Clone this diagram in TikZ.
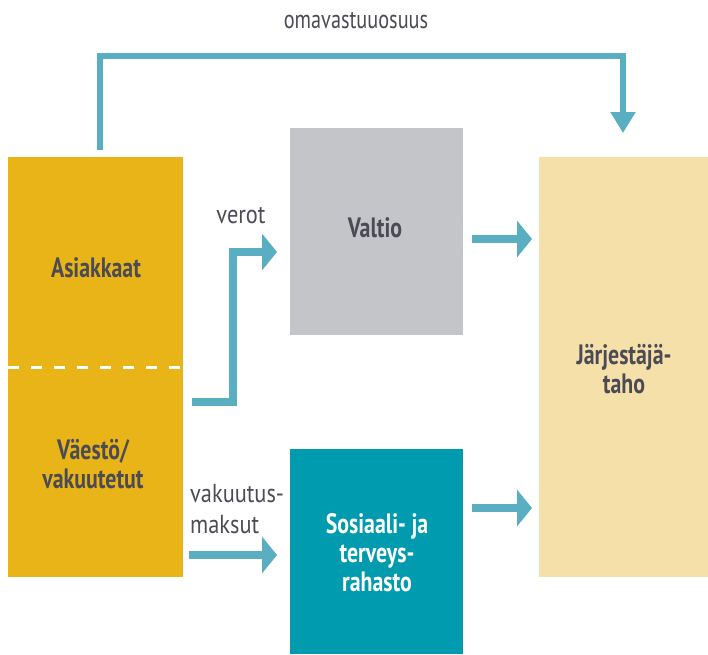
\documentclass[tikz,border=0pt]{standalone}
\usepackage{fontspec}
\setmainfont{PT Sans}
\usepackage{graphicx}
\usetikzlibrary{arrows.meta}
\definecolor{gold}{HTML}{E8B418}
\definecolor{greybox}{HTML}{C4C5C9}
\definecolor{tealbox}{HTML}{009BAE}
\definecolor{pale}{HTML}{F5E0AA}
\definecolor{arrowc}{HTML}{5AAEC1}
\definecolor{txt}{HTML}{4B4B55}
\newcommand{\sqz}[1]{\scalebox{0.78}[1]{#1}}
\newcommand{\sqzb}[1]{\scalebox{0.86}[1]{#1}}
\begin{document}
\begin{tikzpicture}[x=1pt,y=-1pt,
  box/.style={draw=none, inner sep=0pt, outer sep=0pt, anchor=north west},
  boxlabel/.style={text=txt, font=\bfseries\fontsize{28}{29}\selectfont, align=center, inner sep=0pt},
  flowlabel/.style={text=txt, font=\fontsize{26}{31}\selectfont, inner sep=0pt},
  flow/.style={draw=arrowc, line width=8pt, line join=miter, -{Triangle[width=36pt,length=15pt]}},
  topflow/.style={draw=arrowc, line width=6pt, line join=miter, -{Triangle[width=24pt,length=21pt]}},
]
\useasboundingbox (0,0) rectangle (708,654);
\fill[white] (0,0) rectangle (708,654);

% boxes
\node[box, fill=gold, minimum width=175pt, minimum height=210pt] (asi) at (8,157) {};
\node[box, fill=gold, minimum width=175pt, minimum height=210pt] (vae) at (8,367) {};
\node[box, fill=greybox, minimum width=173pt, minimum height=207pt] (valtio) at (290,128) {};
\node[box, fill=tealbox, minimum width=173pt, minimum height=205pt] (sos) at (290,449) {};
\node[box, fill=pale, minimum width=169pt, minimum height=420pt] (jarj) at (539,157) {};

\draw[white, line width=3pt, dash pattern=on 11pt off 12pt] (asi.south west) -- (asi.south east);

% box labels
\node[boxlabel, anchor=base] (asiT) at (96,277) {\sqz{Asiakkaat}};
\node[boxlabel] (vaeT) at (93,464) {\sqz{Väestö/}\\\sqz{vakuutetut}};
\node[boxlabel, anchor=base] (valtioT) at (375,237) {\sqz{Valtio}};
\node[boxlabel, text=white] (sosT) at (377,553) {\sqz{Sosiaali- ja}\\\sqz{terveys-}\\\sqz{rahasto}};
\node[boxlabel] (jarjT) at (624,369) {\sqz{Järjestäjä-}\\\sqz{taho}};

% connectors
\coordinate (omaS) at (100,150);
\coordinate (omaL) at (100,56);
\coordinate (omaR) at (623,56);
\coordinate (omaE) at (623,133);
\draw[topflow] (omaS) -- (omaL) -- (omaR) -- (omaE);

\coordinate (vS) at (192,402);
\coordinate (vA) at (233,402);
\coordinate (vB) at (233,252);
\coordinate (vE) at (277,252);
\draw[flow] (vS) -- (vA) -- (vB) -- (vE);

\coordinate (mS) at (189,555);
\coordinate (mE) at (277,555);
\draw[flow] (mS) -- (mE);

\coordinate (aS) at (472,239);
\coordinate (aE) at (532,239);
\draw[flow] (aS) -- (aE);

\coordinate (bS) at (472,508);
\coordinate (bE) at (532,508);
\draw[flow] (bS) -- (bE);

% flow labels
\node[flowlabel, anchor=base] (omaT) at (356,28) {\sqz{omavastuuosuus}};
\node[flowlabel, anchor=base] (verotT) at (241,223) {\sqzb{verot}};
\node[flowlabel, align=left, anchor=west] (vakT) at (190,509) {\sqzb{vakuutus-}\\\sqzb{maksut}};
\end{tikzpicture}
\end{document}
